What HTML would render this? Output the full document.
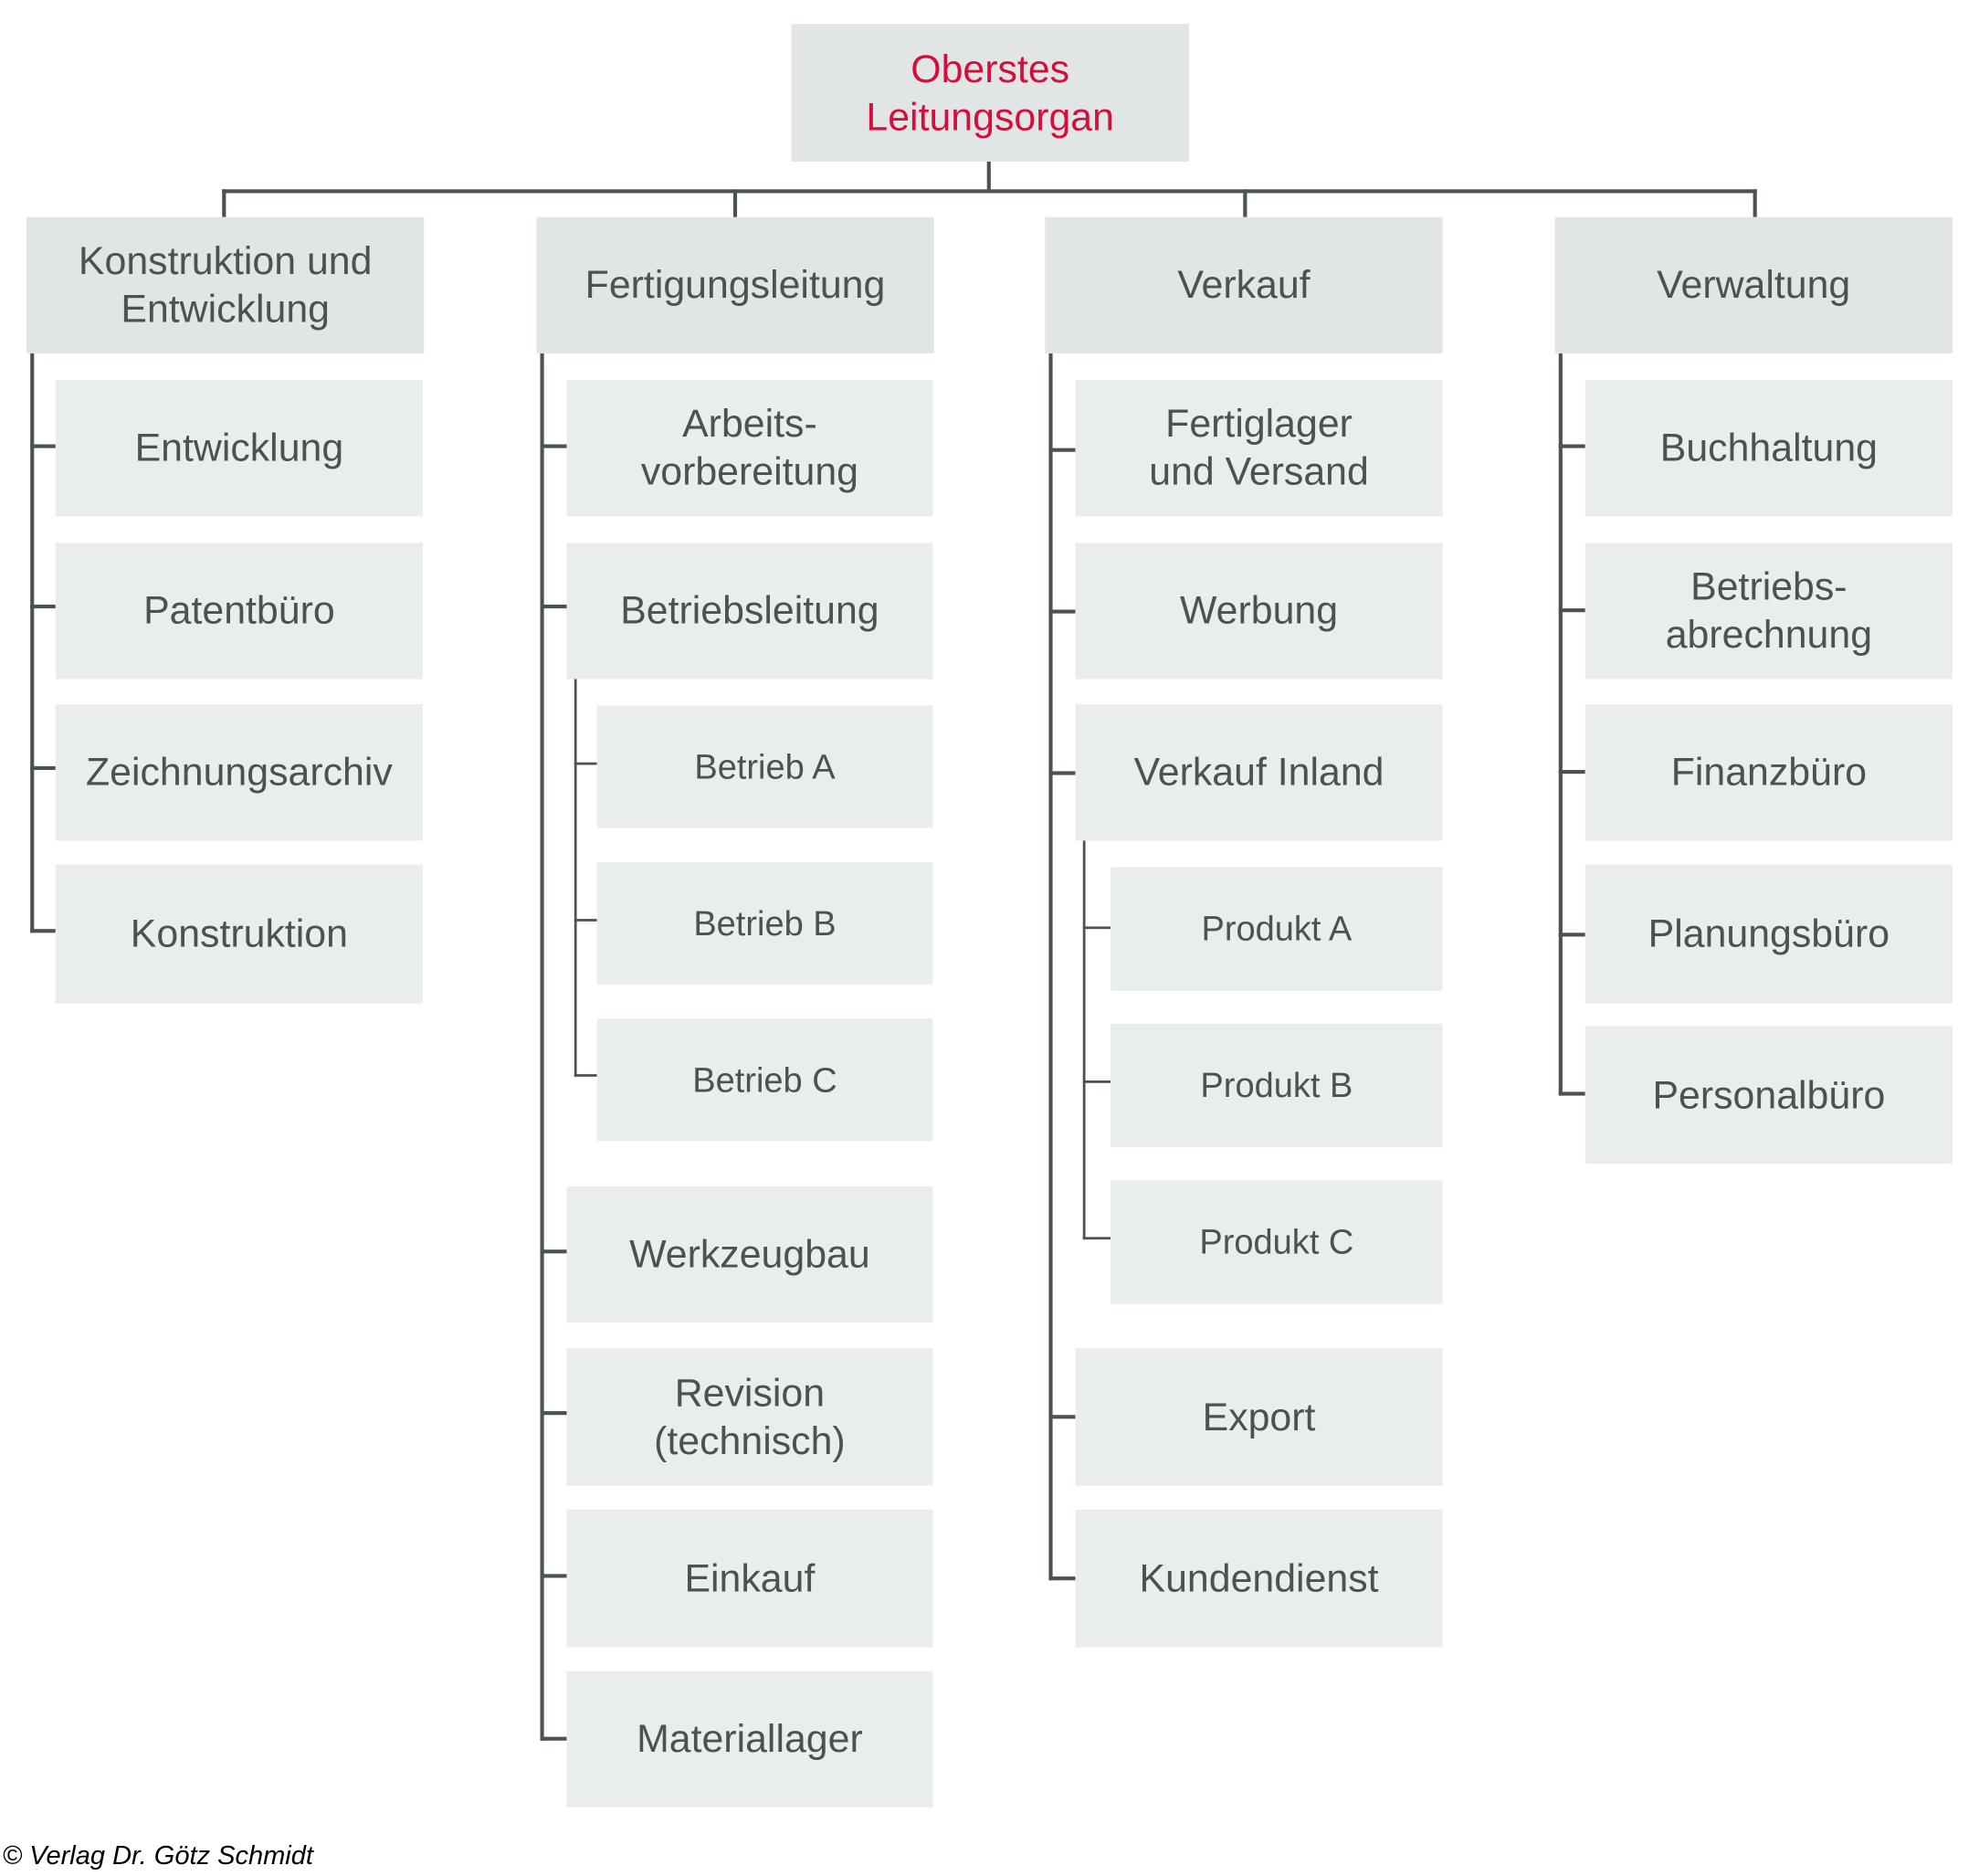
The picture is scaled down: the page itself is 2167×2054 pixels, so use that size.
<!DOCTYPE html>
<html><head><meta charset="utf-8"><style>
html,body{margin:0;padding:0;background:#fff;}
body{width:2167px;height:2054px;overflow:hidden;position:relative;}
#w{position:absolute;left:0;top:0;width:1568px;height:1486px;transform:scale(1.382);transform-origin:0 0;font-family:"Liberation Sans",sans-serif;}
.b{position:absolute;display:flex;align-items:center;justify-content:center;text-align:center;background:#eaeded;color:#4a5352;font-size:31px;line-height:38px;}
.h{background:#e2e5e6;}
.s{font-size:27.5px;}
.l{position:absolute;background:#4a5352;}
</style></head><body><div id="w">
<div class="b h" style="left:627px;top:19px;width:315px;height:109px;color:#d40f3c">Oberstes<br>Leitungsorgan</div>
<div class="l" style="left:782px;top:128px;width:3px;height:24px"></div>
<div class="l" style="left:176px;top:150px;width:1216px;height:3px"></div>
<div class="l" style="left:176px;top:150px;width:3px;height:22px"></div>
<div class="l" style="left:581px;top:150px;width:3px;height:22px"></div>
<div class="l" style="left:985px;top:150px;width:3px;height:22px"></div>
<div class="l" style="left:1389px;top:150px;width:3px;height:22px"></div>

<div class="b h" style="left:21px;top:172px;width:315px;height:108px">Konstruktion und<br>Entwicklung</div>
<div class="b h" style="left:425px;top:172px;width:315px;height:108px">Fertigungsleitung</div>
<div class="b h" style="left:828px;top:172px;width:315px;height:108px">Verkauf</div>
<div class="b h" style="left:1232px;top:172px;width:315px;height:108px">Verwaltung</div>

<!-- col1 -->
<div class="l" style="left:24px;top:280px;width:3px;height:459px"></div>
<div class="l" style="left:24px;top:352px;width:20px;height:3px"></div>
<div class="l" style="left:24px;top:479px;width:20px;height:3px"></div>
<div class="l" style="left:24px;top:607px;width:20px;height:3px"></div>
<div class="l" style="left:24px;top:736px;width:20px;height:3px"></div>
<div class="b" style="left:44px;top:301px;width:291px;height:108px">Entwicklung</div>
<div class="b" style="left:44px;top:430px;width:291px;height:108px">Patentbüro</div>
<div class="b" style="left:44px;top:558px;width:291px;height:108px">Zeichnungsarchiv</div>
<div class="b" style="left:44px;top:685px;width:291px;height:110px">Konstruktion</div>

<!-- col2 -->
<div class="l" style="left:428px;top:280px;width:3px;height:1099px"></div>
<div class="l" style="left:428px;top:352px;width:21px;height:3px"></div>
<div class="l" style="left:428px;top:479px;width:21px;height:3px"></div>
<div class="l" style="left:428px;top:990px;width:21px;height:3px"></div>
<div class="l" style="left:428px;top:1118px;width:21px;height:3px"></div>
<div class="l" style="left:428px;top:1247px;width:21px;height:3px"></div>
<div class="l" style="left:428px;top:1376px;width:21px;height:3px"></div>
<div class="b" style="left:449px;top:301px;width:290px;height:108px">Arbeits-<br>vorbereitung</div>
<div class="b" style="left:449px;top:430px;width:290px;height:108px">Betriebsleitung</div>
<div class="l" style="left:455px;top:538px;width:2px;height:315px"></div>
<div class="l" style="left:455px;top:604px;width:18px;height:2px"></div>
<div class="l" style="left:455px;top:728px;width:18px;height:2px"></div>
<div class="l" style="left:455px;top:851px;width:18px;height:2px"></div>
<div class="b s" style="left:473px;top:559px;width:266px;height:97px">Betrieb A</div>
<div class="b s" style="left:473px;top:683px;width:266px;height:97px">Betrieb B</div>
<div class="b s" style="left:473px;top:807px;width:266px;height:97px">Betrieb C</div>
<div class="b" style="left:449px;top:940px;width:290px;height:108px">Werkzeugbau</div>
<div class="b" style="left:449px;top:1068px;width:290px;height:109px">Revision<br>(technisch)</div>
<div class="b" style="left:449px;top:1196px;width:290px;height:109px">Einkauf</div>
<div class="b" style="left:449px;top:1324px;width:290px;height:108px">Materiallager</div>

<!-- col3 -->
<div class="l" style="left:831px;top:280px;width:3px;height:972px"></div>
<div class="l" style="left:831px;top:355px;width:21px;height:3px"></div>
<div class="l" style="left:831px;top:483px;width:21px;height:3px"></div>
<div class="l" style="left:831px;top:611px;width:21px;height:3px"></div>
<div class="l" style="left:831px;top:1121px;width:21px;height:3px"></div>
<div class="l" style="left:831px;top:1249px;width:21px;height:3px"></div>
<div class="b" style="left:852px;top:301px;width:291px;height:108px">Fertiglager<br>und Versand</div>
<div class="b" style="left:852px;top:430px;width:291px;height:108px">Werbung</div>
<div class="b" style="left:852px;top:558px;width:291px;height:108px">Verkauf Inland</div>
<div class="l" style="left:858px;top:666px;width:2px;height:316px"></div>
<div class="l" style="left:858px;top:734px;width:22px;height:2px"></div>
<div class="l" style="left:858px;top:856px;width:22px;height:2px"></div>
<div class="l" style="left:858px;top:980px;width:22px;height:2px"></div>
<div class="b s" style="left:880px;top:687px;width:263px;height:98px">Produkt A</div>
<div class="b s" style="left:880px;top:811px;width:263px;height:98px">Produkt B</div>
<div class="b s" style="left:880px;top:935px;width:263px;height:98px">Produkt C</div>
<div class="b" style="left:852px;top:1068px;width:291px;height:109px">Export</div>
<div class="b" style="left:852px;top:1196px;width:291px;height:109px">Kundendienst</div>

<!-- col4 -->
<div class="l" style="left:1235px;top:280px;width:3px;height:588px"></div>
<div class="l" style="left:1235px;top:352px;width:21px;height:3px"></div>
<div class="l" style="left:1235px;top:482px;width:21px;height:3px"></div>
<div class="l" style="left:1235px;top:610px;width:21px;height:3px"></div>
<div class="l" style="left:1235px;top:739px;width:21px;height:3px"></div>
<div class="l" style="left:1235px;top:865px;width:21px;height:3px"></div>
<div class="b" style="left:1256px;top:301px;width:291px;height:108px">Buchhaltung</div>
<div class="b" style="left:1256px;top:430px;width:291px;height:108px">Betriebs-<br>abrechnung</div>
<div class="b" style="left:1256px;top:558px;width:291px;height:108px">Finanzbüro</div>
<div class="b" style="left:1256px;top:685px;width:291px;height:110px">Planungsbüro</div>
<div class="b" style="left:1256px;top:813px;width:291px;height:109px">Personalbüro</div>

<div style="position:absolute;left:2px;top:1459px;font-size:21px;font-style:italic;color:#000;white-space:nowrap">© Verlag Dr. Götz Schmidt</div>
</div></body></html>
